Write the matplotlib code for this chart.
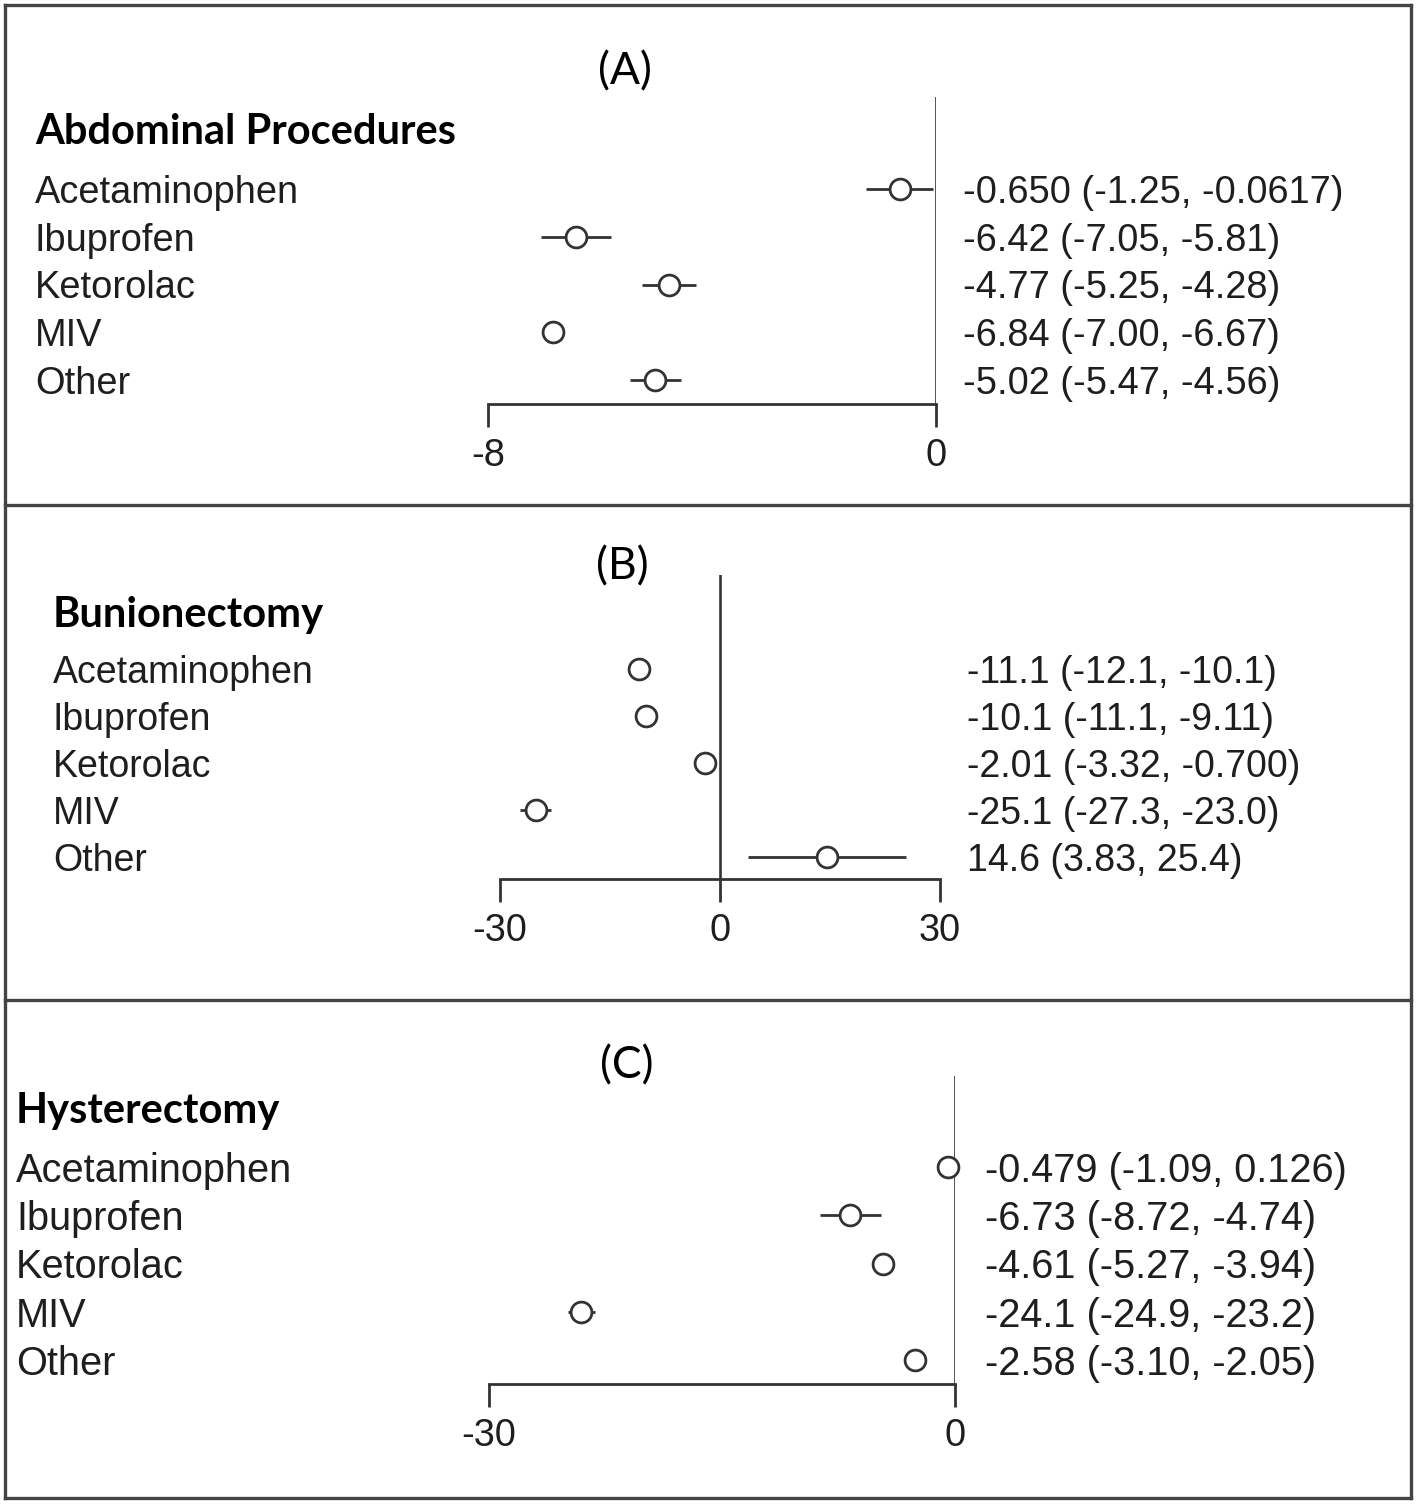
import matplotlib
matplotlib.use("Agg")
import matplotlib.pyplot as plt
from matplotlib.lines import Line2D

# data: estimate (lower, upper) per drug, per procedure
drugs = ["Acetaminophen", "Ibuprofen", "Ketorolac", "MIV", "Other"]

abd_est = [-0.650, -6.42, -4.77, -6.84, -5.02]
abd_lo = [-1.25, -7.05, -5.25, -7.00, -5.47]
abd_hi = [-0.0617, -5.81, -4.28, -6.67, -4.56]
abd_txt = ["-0.650 (-1.25, -0.0617)", "-6.42 (-7.05, -5.81)", "-4.77 (-5.25, -4.28)",
           "-6.84 (-7.00, -6.67)", "-5.02 (-5.47, -4.56)"]

bun_est = [-11.1, -10.1, -2.01, -25.1, 14.6]
bun_lo = [-12.1, -11.1, -3.32, -27.3, 3.83]
bun_hi = [-10.1, -9.11, -0.700, -23.0, 25.4]
bun_txt = ["-11.1 (-12.1, -10.1)", "-10.1 (-11.1, -9.11)", "-2.01 (-3.32, -0.700)",
           "-25.1 (-27.3, -23.0)", "14.6 (3.83, 25.4)"]

hys_est = [-0.479, -6.73, -4.61, -24.1, -2.58]
hys_lo = [-1.09, -8.72, -5.27, -24.9, -3.10]
hys_hi = [0.126, -4.74, -3.94, -23.2, -2.05]
hys_txt = ["-0.479 (-1.09, 0.126)", "-6.73 (-8.72, -4.74)", "-4.61 (-5.27, -3.94)",
           "-24.1 (-24.9, -23.2)", "-2.58 (-3.10, -2.05)"]

W, H = 1418, 1504
fig = plt.figure(figsize=(W / 100, H / 100), dpi=100)
fig.patch.set_facecolor("white")

ink = "#1e1e1e"
lcol = "#333333"
sans = ["Liberation Sans", "DejaVu Sans"]
cal = ["Lato", "DejaVu Sans"]


def fx(px):
    return px / W


def fy(py):
    return 1 - py / H


def panel(est, lo, hi, txt, header, tag, xlim, ticks, xpx, row0, dy,
          axis_py, zero_top, label_x, num_x, header_y, tag_x, tag_y, fs=27.4):
    ax = fig.add_axes([fx(xpx[0]), fy(axis_py), (xpx[1] - xpx[0]) / W,
                       (axis_py - zero_top) / H])
    ax.set_xlim(xlim)
    ax.set_ylim((axis_py - row0) / dy, (zero_top - row0) / dy)
    for s in ["top", "left", "right"]:
        ax.spines[s].set_visible(False)
    ax.spines["bottom"].set_bounds(xlim[0], xlim[1])
    ax.spines["bottom"].set_linewidth(2.0)
    ax.spines["bottom"].set_color(lcol)
    ax.set_yticks([])
    ax.set_xticks(ticks)
    ax.set_xticklabels([str(t) for t in ticks], family=sans, fontsize=27.4, color=ink)
    ax.tick_params(axis="x", length=16.5, width=2.0, color=lcol, pad=8)
    ax.patch.set_alpha(0)
    ax.axvline(0, color=lcol, lw=1.9)

    rows = list(range(len(drugs)))
    ax.hlines(rows, lo, hi, color=lcol, lw=2.0, clip_on=False)
    ax.plot(est, rows, "o", ms=15, mfc="white", mec=lcol, mew=2.0,
            clip_on=False, zorder=3)

    for i, name in enumerate(drugs):
        py = row0 + i * dy
        fig.text(fx(label_x), fy(py), name, family=sans, fontsize=fs,
                 color=ink, ha="left", va="center_baseline")
        fig.text(fx(num_x), fy(py), txt[i], family=sans, fontsize=fs,
                 color=ink, ha="left", va="center_baseline")
    fig.text(fx(label_x), fy(header_y), header, family=cal, fontsize=30,
             fontweight="bold", color="black", ha="left", va="center_baseline")
    fig.text(fx(tag_x), fy(tag_y), tag, family=cal, fontsize=32,
             color="black", ha="center", va="center_baseline")


panel(abd_est, abd_lo, abd_hi, abd_txt, "Abdominal Procedures", "(A)",
      (-8, 0), [-8, 0], (488, 936), 189, 47.75, 404, 97, 35, 963, 128, 625, 68)
panel(bun_est, bun_lo, bun_hi, bun_txt, "Bunionectomy", "(B)",
      (-30, 30), [-30, 0, 30], (500, 940), 669, 47, 879, 575, 53, 967, 611, 622, 563,
      fs=27)
panel(hys_est, hys_lo, hys_hi, hys_txt, "Hysterectomy", "(C)",
      (-30, 0), [-30, 0], (489, 955), 1167, 48.25, 1384, 1076, 16, 985, 1108, 627, 1062,
      fs=28.6)

# panel frames
bc = "#444444"
for py in [5, 505, 1000, 1498]:
    fig.add_artist(Line2D([fx(5), fx(1411)], [fy(py), fy(py)], color=bc, lw=2.4))
for px in [5, 1411]:
    fig.add_artist(Line2D([fx(px), fx(px)], [fy(5), fy(1498)], color=bc, lw=2.4))

fig.savefig("out.png", dpi=100)
